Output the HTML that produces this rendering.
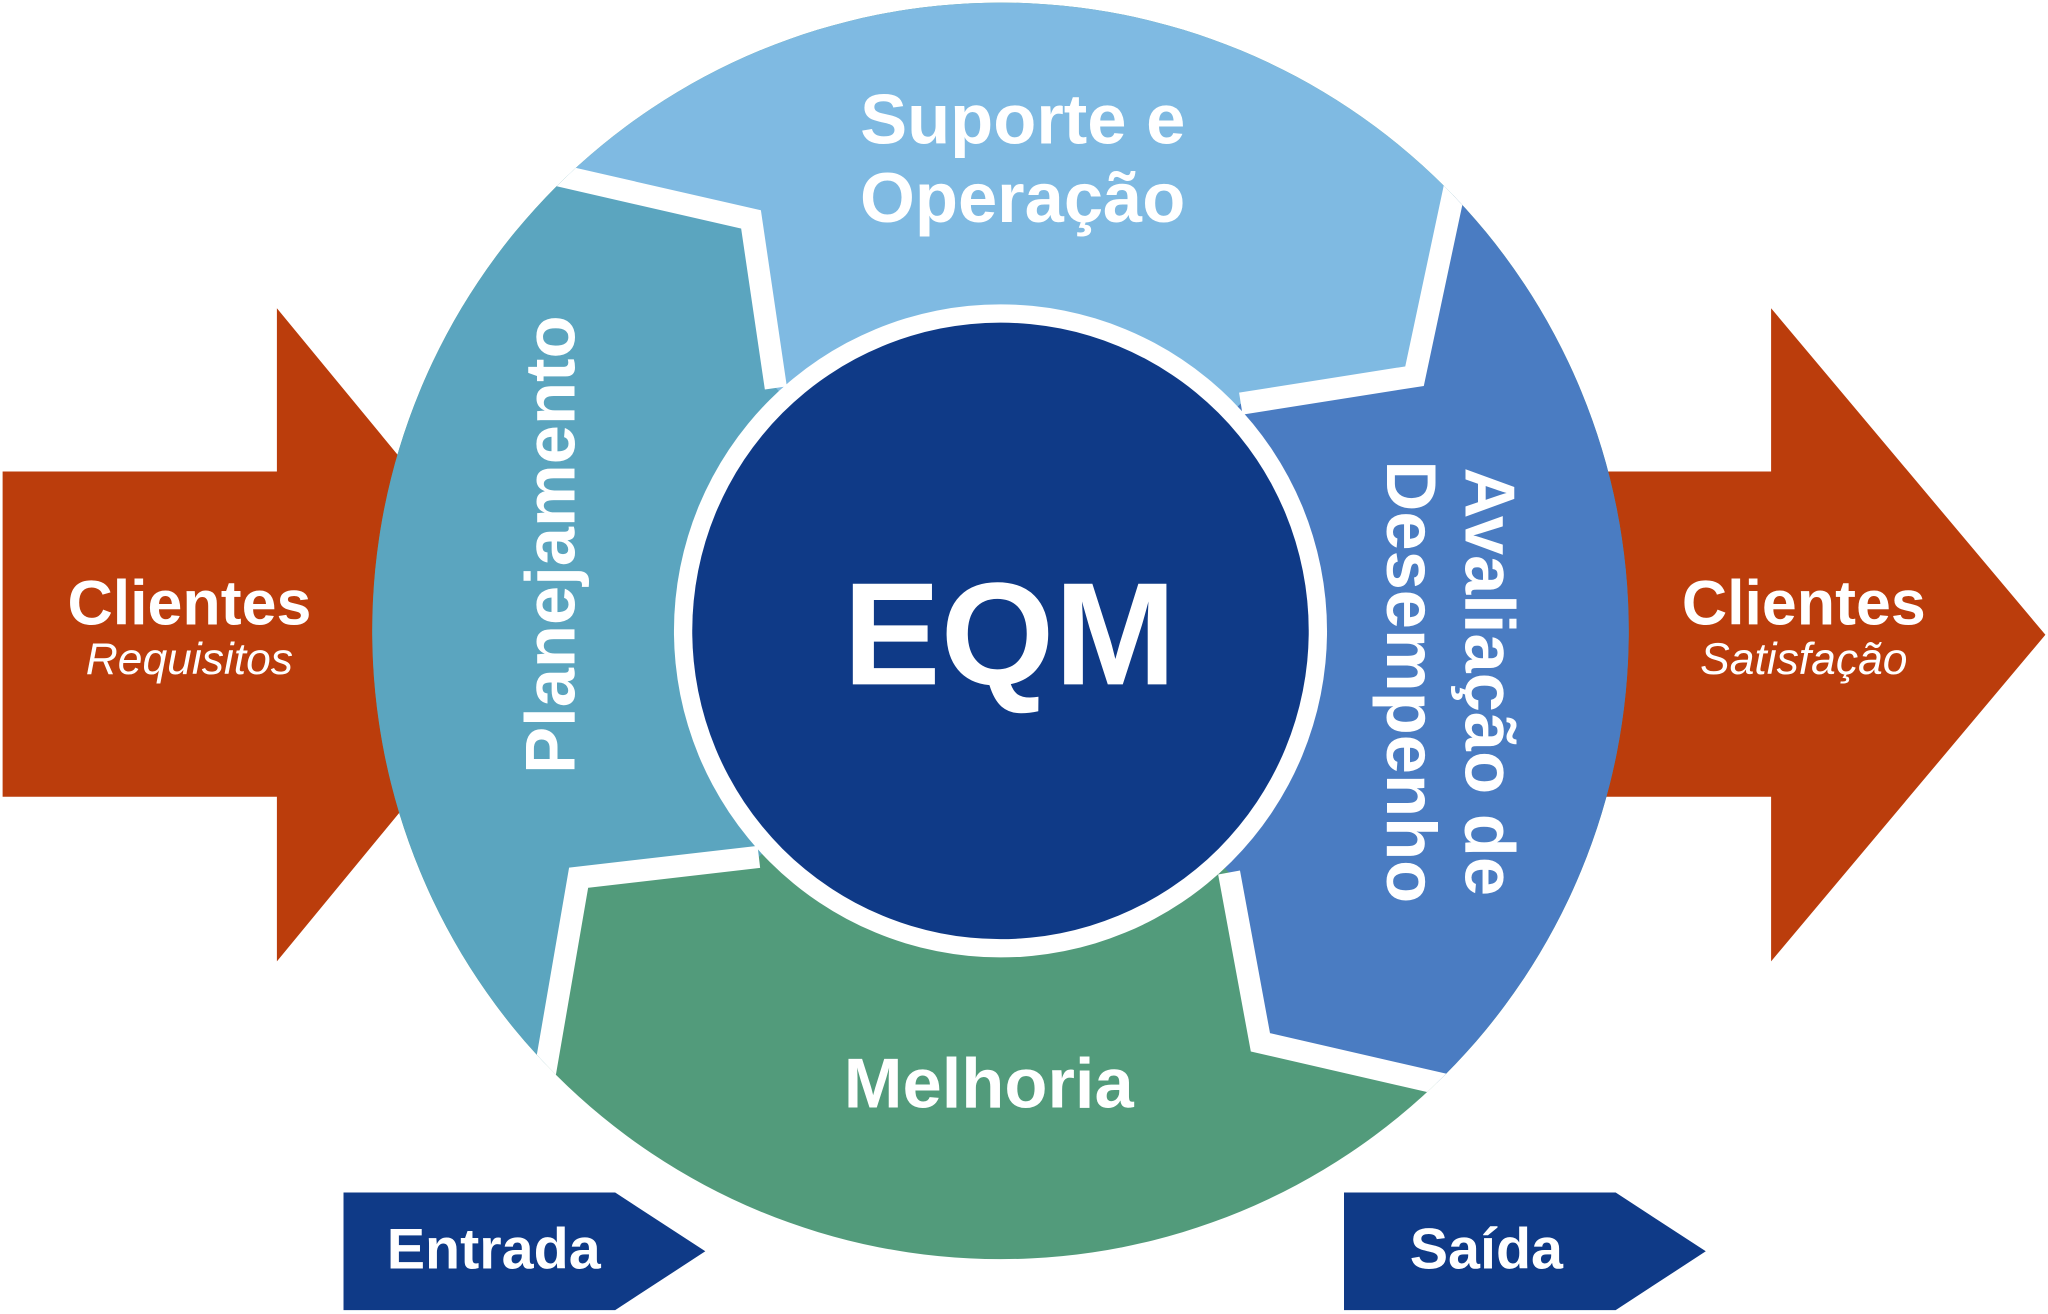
<!DOCTYPE html>
<html><head><meta charset="utf-8"><style>
html,body{margin:0;padding:0;background:#fff;}
svg{display:block;}
text{font-family:"Liberation Sans",sans-serif;fill:#fff;}
</style></head><body>
<svg width="2048" height="1314" viewBox="0 0 1568 1006" preserveAspectRatio="none">
<defs><clipPath id="c"><circle cx="766" cy="483" r="481"/></clipPath></defs>
<!-- orange arrows -->
<polygon points="2,361 212,361 212,236 418,486 212,736 212,610 2,610" fill="#bb3d0c"/>
<polygon points="1200,361 1356,361 1356,236 1566,486 1356,736 1356,610 1200,610" fill="#bb3d0c"/>
<!-- ring -->
<g clip-path="url(#c)">
<rect x="0" y="0" width="1568" height="1006" fill="#529b7b"/>
<polygon points="766,483 594,297 575,168 431,135 300,105 0,483 400,920 418,817 443,672 581,656" fill="#5ba5bf"/>
<polygon points="766,483 594,297 575,168 431,135 300,105 766,-100 1130,60 1113,147 1083,288 950,309" fill="#7fbae2"/>
<polygon points="766,483 950,309 1083,288 1113,147 1130,60 1700,483 1130,900 1104,830 965,798 941,668" fill="#4a7cc2"/>
<g fill="none" stroke="#fff" stroke-width="17" stroke-linejoin="miter">
<polyline points="594,297 575,168 431,135 380,123"/>
<polyline points="950,309 1083,288 1113,147 1125,90"/>
<polyline points="941,668 965,798 1104,830 1160,843"/>
<polyline points="581,656 443,672 418,817 408,875"/>
</g>
</g>
<circle cx="766" cy="483" r="250" fill="#fff"/>
<circle cx="766" cy="483" r="236" fill="#0f3a87"/>
<!-- bottom boxes -->
<polygon points="263,913 471,913 540,958 471,1003 263,1003" fill="#0f3a87"/>
<polygon points="1029,913 1237,913 1306,958 1237,1003 1029,1003" fill="#0f3a87"/>
<!-- text -->
<text x="773" y="524" font-size="112" font-weight="bold" text-anchor="middle">EQM</text>
<text x="783" y="110" font-size="54" font-weight="bold" text-anchor="middle">Suporte e</text>
<text x="783" y="170" font-size="54" font-weight="bold" text-anchor="middle">Operação</text>
<text x="757" y="848" font-size="54" font-weight="bold" text-anchor="middle">Melhoria</text>
<text transform="translate(440,417) rotate(-90)" font-size="54" font-weight="bold" text-anchor="middle">Planejamento</text>
<text transform="translate(1122,522) rotate(90)" font-size="54" font-weight="bold" text-anchor="middle">Avaliação de</text>
<text transform="translate(1062,522) rotate(90)" font-size="54" font-weight="bold" text-anchor="middle">Desempenho</text>
<text x="145" y="478" font-size="48" font-weight="bold" text-anchor="middle">Clientes</text>
<text x="145" y="516" font-size="34" font-style="italic" text-anchor="middle">Requisitos</text>
<text x="1381" y="478" font-size="48" font-weight="bold" text-anchor="middle">Clientes</text>
<text x="1381" y="516" font-size="34" font-style="italic" text-anchor="middle">Satisfação</text>
<text x="378" y="971" font-size="44" font-weight="bold" text-anchor="middle">Entrada</text>
<text x="1138" y="971" font-size="44" font-weight="bold" text-anchor="middle">Saída</text>
</svg>
</body></html>
